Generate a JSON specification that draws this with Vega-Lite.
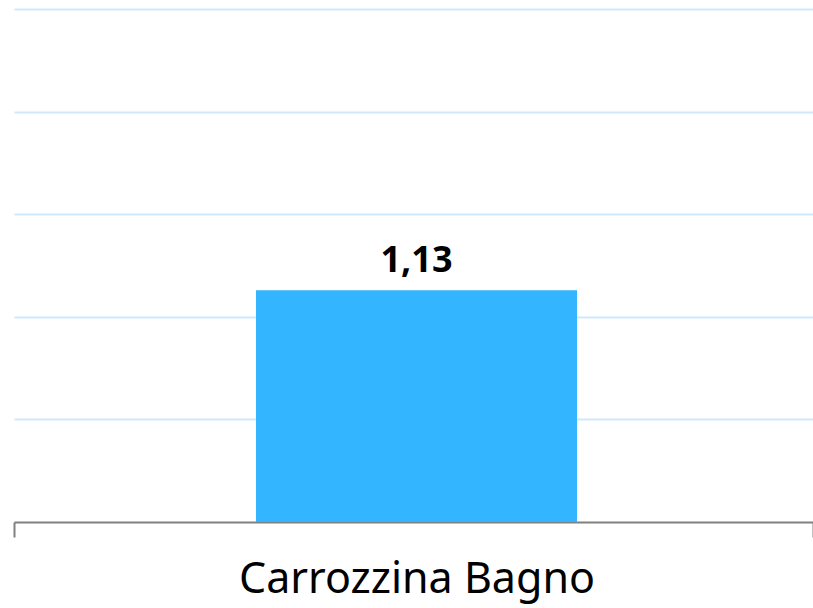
{
  "$schema": "https://vega.github.io/schema/vega-lite/v6.json",
  "width": 799,
  "height": 522,
  "padding": {"left": 14, "top": 0, "right": 0, "bottom": 86},
  "autosize": "none",
  "background": "white",
  "config": {
    "view": {"stroke": null},
    "locale": {"number": {"decimal": ",", "thousands": ".", "grouping": [3], "currency": ["", " €"]}}
  },
  "data": {"values": [{"categoria": "Carrozzina Bagno", "valore": 1.13}]},
  "encoding": {
    "x": {
      "field": "categoria",
      "type": "nominal",
      "scale": {"paddingInner": 0, "paddingOuter": 0},
      "axis": {
        "orient": "bottom",
        "title": null,
        "domainColor": "#808080",
        "domainWidth": 2,
        "ticks": true,
        "tickBand": "extent",
        "tickColor": "#808080",
        "tickWidth": 2,
        "tickSize": 15,
        "labelFont": "Noto Sans",
        "labelFontSize": 43,
        "labelColor": "#000000",
        "labelPadding": 21,
        "labelAngle": 0,
        "labelOffset": 3,
        "labelLimit": 0,
        "grid": false
      }
    },
    "y": {
      "field": "valore",
      "type": "quantitative",
      "scale": {"domain": [0, 2.546], "nice": false, "zero": true},
      "axis": {
        "values": [0.5, 1, 1.5, 2, 2.5],
        "grid": true,
        "gridColor": "#cfe8fb",
        "gridWidth": 2,
        "domain": false,
        "ticks": false,
        "labels": false,
        "title": null
      }
    }
  },
  "layer": [
    {
      "mark": {"type": "bar", "color": "#33b5ff", "width": 321, "xOffset": 3}
    },
    {
      "mark": {"type": "text", "dy": -18, "dx": 3, "baseline": "alphabetic", "font": "Noto Sans", "fontSize": 36, "fontWeight": "bold", "color": "#000000"},
      "encoding": {
        "text": {"field": "valore", "type": "quantitative", "format": ".2f"}
      }
    }
  ]
}
